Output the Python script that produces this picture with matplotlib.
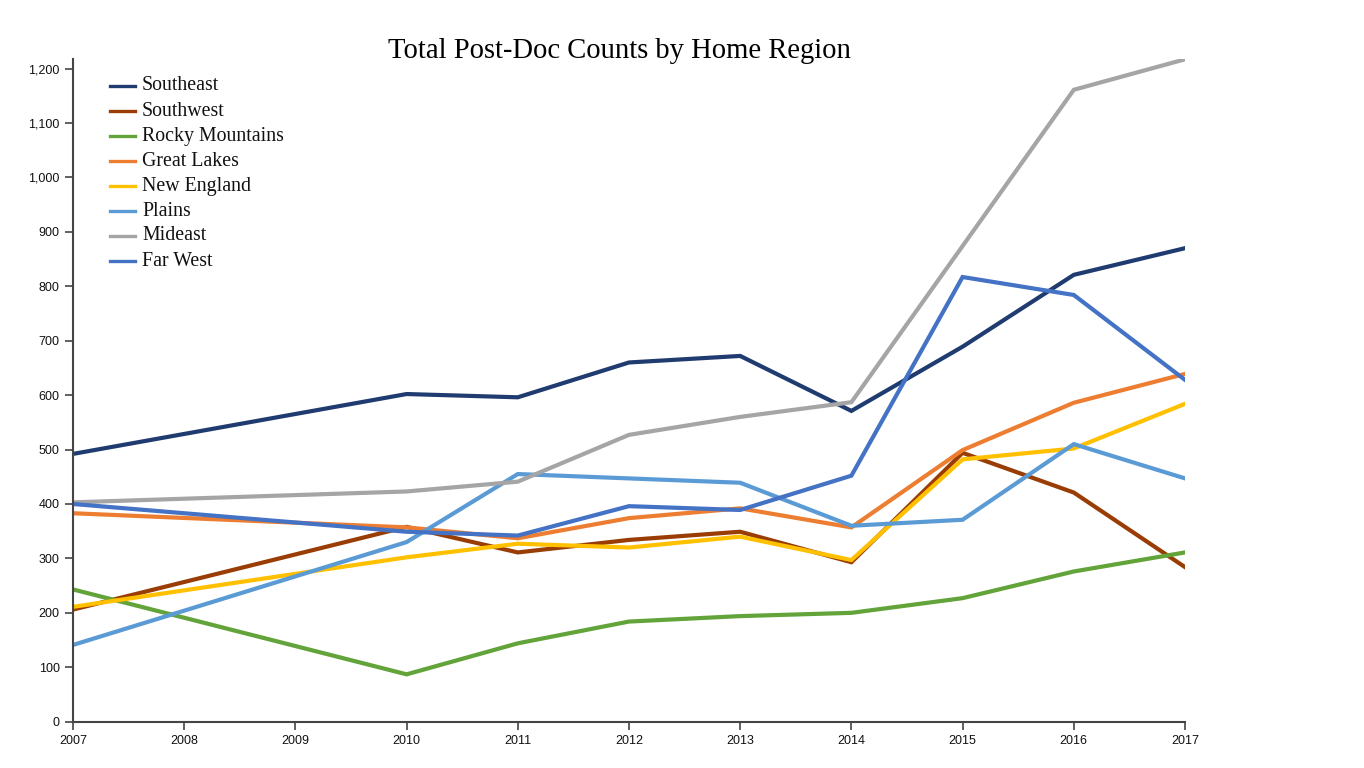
import matplotlib
matplotlib.use("Agg")
import matplotlib.pyplot as plt
from matplotlib.lines import Line2D
from matplotlib.ticker import FuncFormatter

years = [2007, 2010, 2011, 2012, 2013, 2014, 2015, 2016, 2017]
southeast = [492, 602, 596, 660, 672, 571, 689, 821, 870]
southwest = [206, 358, 311, 334, 349, 293, 494, 421, 284]
rocky_mountains = [243, 87, 144, 184, 194, 200, 227, 276, 311]
great_lakes = [383, 357, 337, 374, 392, 357, 499, 586, 639]
new_england = [211, 302, 327, 320, 340, 297, 482, 502, 584]
plains = [141, 330, 455, 447, 439, 360, 371, 510, 447]
mideast = [403, 423, 441, 527, 560, 587, 874, 1161, 1217]
far_west = [400, 349, 342, 396, 389, 452, 817, 784, 628]

series_names = ["Southeast", "Southwest", "Rocky Mountains", "Great Lakes",
                "New England", "Plains", "Mideast", "Far West"]
series_values = [southeast, southwest, rocky_mountains, great_lakes,
                 new_england, plains, mideast, far_west]
colors = ["#1f3b70", "#993d05", "#62a33a", "#ed7d31",
          "#ffc000", "#5b9bd5", "#a5a5a5", "#4472c4"]
x_ticks = list(range(2007, 2018))

W, H = 1364, 768
fig = plt.figure(figsize=(W / 100, H / 100), dpi=100)
ax = fig.add_axes([73 / W, 1 - 721.7 / H, (1185 - 73) / W, (721.7 - 59.3) / H])

for name, vals, c in zip(series_names, series_values, colors):
    ax.plot(years, vals, color=c, lw=3.0, solid_joinstyle="miter", label=name)

ax.set_xlim(2007, 2017)
ax.set_ylim(0, max(mideast))
ax.set_xticks(x_ticks)
ax.set_xticklabels([str(y) for y in x_ticks])
ax.set_yticks(range(0, 1201, 100))
ax.yaxis.set_major_formatter(FuncFormatter(lambda v, p: f"{int(v):,}"))
for s in ["top", "right"]:
    ax.spines[s].set_visible(False)
for s in ["left", "bottom"]:
    ax.spines[s].set_color("#444444")
    ax.spines[s].set_linewidth(1.5)
ax.tick_params(axis="both", direction="out", length=6, width=1.2, color="#444444",
               labelsize=9, labelcolor="#111111")
for lab in ax.get_xticklabels() + ax.get_yticklabels():
    lab.set_fontfamily("Liberation Sans")

fig.text(619 / W, 1 - 51 / H, "Total Post-Doc Counts by Home Region",
         ha="center", va="center", fontsize=20.6, family="Liberation Serif")

# legend drawn manually
for i, (name, c) in enumerate(zip(series_names, colors)):
    yy = 1 - (86 + 25 * i) / H
    fig.add_artist(Line2D([110 / W, 135 / W], [yy, yy], color=c, lw=2.4,
                          transform=fig.transFigure))
    fig.text(142 / W, yy, name, ha="left", va="center", fontsize=14.3,
             family="Liberation Serif", color="#111111")

fig.savefig("out.png", dpi=100)
